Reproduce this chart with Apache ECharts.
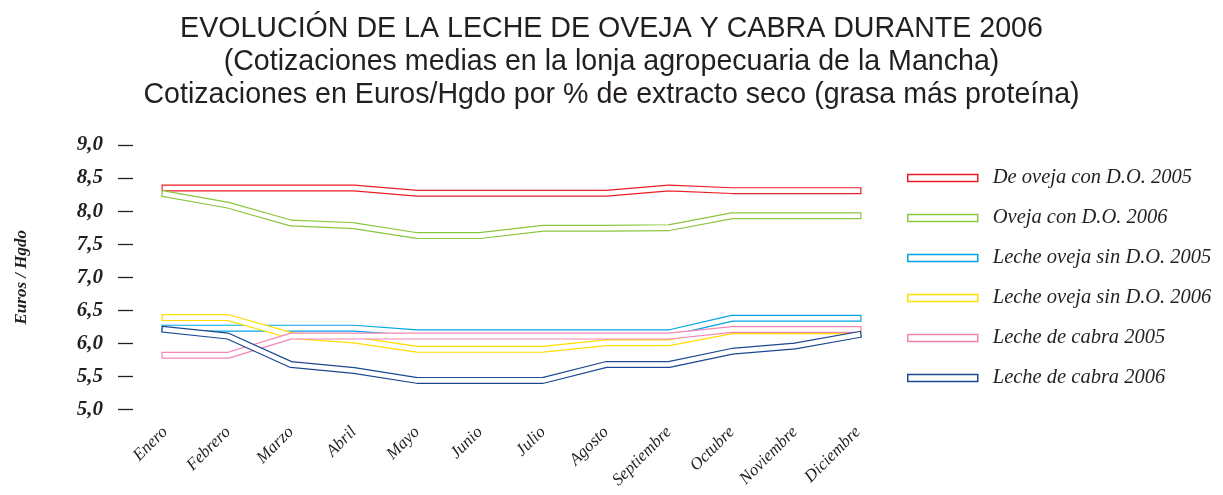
<!DOCTYPE html>
<html>
<head>
<meta charset="utf-8">
<script src="https://cdn.jsdelivr.net/npm/echarts@6/dist/echarts.min.js"></script>
<style>
  html, body { margin: 0; padding: 0; background: #fff; }
  #chart { width: 1223px; height: 495px; }
</style>
</head>
<body>
<div id="chart"></div>
<script>
// meses
var months = ["Enero", "Febrero", "Marzo", "Abril", "Mayo", "Junio", "Julio",
  "Agosto", "Septiembre", "Octubre", "Noviembre", "Diciembre"];

// cotizaciones (Euros/Hgdo)
var ovejaDO2005 = [8.35, 8.35, 8.35, 8.35, 8.27, 8.27, 8.27, 8.27, 8.35, 8.31, 8.31, 8.31];
var ovejaDO2006 = [8.26, 8.09, 7.82, 7.78, 7.63, 7.63, 7.74, 7.74, 7.75, 7.93, 7.93, 7.93];
var ovejaSinDO2005 = [6.23, 6.23, 6.23, 6.23, 6.16, 6.16, 6.16, 6.16, 6.16, 6.38, 6.38, 6.38];
var ovejaSinDO2006 = [6.39, 6.39, 6.12, 6.05, 5.91, 5.91, 5.91, 6.01, 6.01, 6.19, 6.19, 6.19];
var cabra2005 = [5.82, 5.82, 6.11, 6.11, 6.11, 6.11, 6.11, 6.11, 6.11, 6.21, 6.21, 6.21];
var cabra2006 = [6.21, 6.11, 5.68, 5.59, 5.44, 5.44, 5.44, 5.68, 5.68, 5.88, 5.96, 6.13];

var seriesNames = ["De oveja con D.O. 2005", "Oveja con D.O. 2006", "Leche oveja sin D.O. 2005",
  "Leche oveja sin D.O. 2006", "Leche de cabra 2005", "Leche de cabra 2006"];
var seriesData = [ovejaDO2005, ovejaDO2006, ovejaSinDO2005, ovejaSinDO2006, cabra2005, cabra2006];
var colors = ["#ec1c24", "#8cc63f", "#00a4e4", "#ffdd00", "#f384b4", "#1c4891"];

var serif = "'Liberation Serif', 'DejaVu Serif', serif";
var textColor = "#231f20";

var series = [];
seriesData.forEach(function (d, i) {
  // cinta: linea gruesa de color + linea blanca encima
  series.push({
    name: seriesNames[i],
    type: "line",
    data: d,
    symbol: "none",
    silent: true,
    lineStyle: { width: 7, color: colors[i], cap: "square" },
    itemStyle: { color: colors[i] }
  });
  series.push({
    name: seriesNames[i] + "_in",
    type: "line",
    data: d,
    symbol: "none",
    silent: true,
    lineStyle: { width: 4.6, color: "#ffffff", cap: "square" },
    itemStyle: { color: "#ffffff" }
  });
});

var chart = echarts.init(document.getElementById("chart"));
chart.setOption({
  animation: false,
  title: {
    text: "EVOLUCIÓN DE LA LECHE DE OVEJA Y CABRA DURANTE 2006\n(Cotizaciones medias en la lonja agropecuaria de la Mancha)\nCotizaciones en Euros/Hgdo por % de extracto seco (grasa más proteína)",
    left: "center",
    top: 8,
    textStyle: {
      fontFamily: "'Liberation Sans', Arial, sans-serif",
      fontWeight: "normal",
      fontSize: 28.6,
      lineHeight: 33,
      color: textColor,
      align: "center"
    }
  },
  legend: {
    orient: "vertical",
    left: 907,
    top: 167,
    padding: 0,
    itemWidth: 70,
    itemHeight: 7,
    itemGap: 18,
    icon: "rect",
    selectedMode: false,
    data: seriesNames.map(function (n, i) {
      return {
        name: n,
        itemStyle: { color: "#ffffff", borderColor: colors[i], borderWidth: 1.5 }
      };
    }),
    textStyle: {
      fontFamily: serif,
      fontStyle: "italic",
      fontSize: 20.5,
      lineHeight: 22,
      padding: [0, 0, 0, 10],
      color: textColor
    }
  },
  grid: {
    left: 165,
    right: 365,
    top: 145,
    bottom: 85.5
  },
  xAxis: {
    type: "category",
    data: months,
    boundaryGap: false,
    axisLine: { show: false },
    axisTick: { show: false },
    axisLabel: {
      rotate: 45,
      margin: 20,
      interval: 0,
      fontFamily: serif,
      fontStyle: "italic",
      fontSize: 17,
      color: textColor
    }
  },
  yAxis: {
    type: "value",
    min: 5,
    max: 9,
    interval: 0.5,
    offset: 32,
    name: "Euros / Hgdo",
    nameLocation: "middle",
    nameRotate: 90,
    nameGap: 103,
    nameTextStyle: {
      fontFamily: serif,
      fontStyle: "italic",
      fontWeight: "bold",
      fontSize: 17,
      color: textColor
    },
    axisLine: { show: false },
    axisTick: { show: true, length: 15, lineStyle: { color: textColor, width: 1.3 } },
    splitLine: { show: false },
    axisLabel: {
      margin: 30,
      fontFamily: serif,
      fontStyle: "italic",
      fontWeight: "bold",
      fontSize: 21,
      color: textColor,
      formatter: function (v) { return v.toFixed(1).replace(".", ","); }
    }
  },
  series: series
});
</script>
</body>
</html>
